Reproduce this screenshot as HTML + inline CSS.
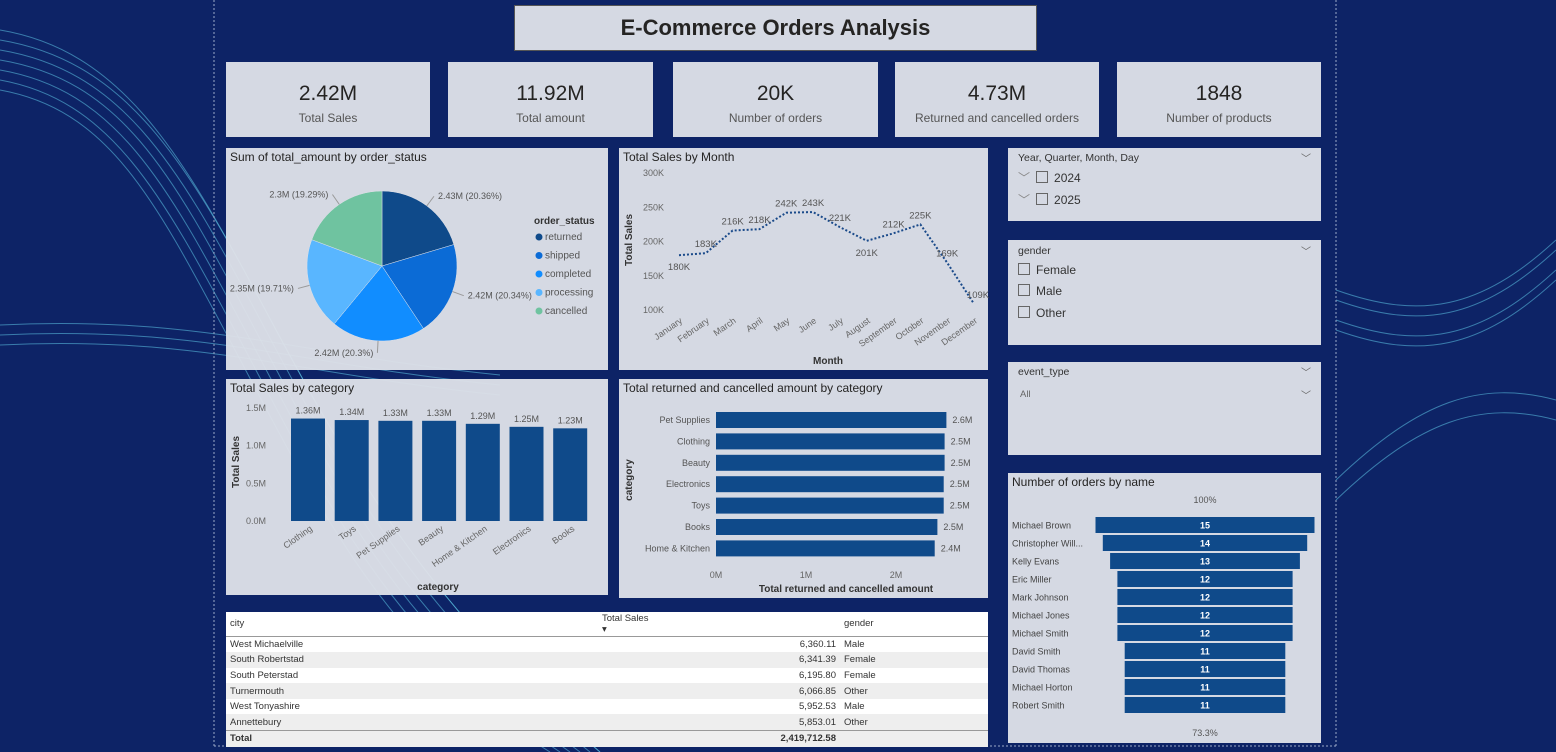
<!DOCTYPE html>
<html><head><meta charset="utf-8"><style>
body{margin:0;width:1556px;height:752px;overflow:hidden;background:#0d2366;font-family:"Liberation Sans",sans-serif;position:relative}
.p{position:absolute;background:rgba(222,225,232,0.96);box-sizing:border-box}
.t{position:absolute;left:4px;top:2px;font-size:12px;color:#252423}
.kv{position:absolute;width:100%;text-align:center;top:20px;font-size:21px;color:#252423}
.kl{position:absolute;width:100%;text-align:center;top:49px;font-size:12px;color:#555}
.cb{display:inline-block;width:10px;height:10px;border:1px solid #666;vertical-align:-1px;margin-right:6px}
.sl{position:absolute;font-size:12px;color:#333}
.chev{position:absolute;right:10px;font-size:10px;color:#666}
table{border-collapse:collapse;width:100%;font-size:9.5px;color:#333;table-layout:fixed}
td{padding:0 4px;height:15.6px;white-space:nowrap}
</style></head><body>
<svg style="position:absolute;left:0;top:0" width="1556" height="752">
<g fill="none" stroke="#5fc6e6" stroke-opacity="0.55" stroke-width="1">
<path d="M0 30 C120 50 180 150 260 300 S420 600 600 752"/>
<path d="M0 40 C120 60 180 150 260 300 S420 600 600 752"/>
<path d="M0 50 C120 70 175 160 255 310 S410 610 590 752"/>
<path d="M0 60 C120 80 170 170 250 320 S400 620 580 752"/>
<path d="M0 70 C115 90 165 180 245 330 S395 630 570 752"/>
<path d="M0 80 C110 100 160 190 240 340 S390 640 560 752"/>
<path d="M0 90 C110 110 155 200 235 350 S385 650 550 752"/>
<path d="M0 325 C200 315 300 355 500 375"/>
<path d="M0 335 C200 325 300 365 500 385"/>
<path d="M0 345 C200 335 300 375 500 395"/>
<path d="M1336 290 C1420 320 1480 310 1556 240"/>
<path d="M1336 300 C1420 330 1480 320 1556 250"/>
<path d="M1336 320 C1420 350 1480 340 1556 270"/>
<path d="M1336 330 C1420 360 1480 350 1556 280"/>
<path d="M1336 500 C1420 420 1480 400 1556 420"/>
<path d="M1336 480 C1420 400 1480 380 1556 400"/>
</g>
<g stroke="#9aa8c8" stroke-dasharray="2,2" fill="none"><line x1="214" y1="0" x2="214" y2="746"/><line x1="1336" y1="0" x2="1336" y2="746"/><line x1="214" y1="746" x2="1336" y2="746"/></g>
</svg>
<div class="p" style="left:514px;top:5px;width:523px;height:46px;border:1px solid #555;text-align:center;line-height:44px;font-size:22px;font-weight:bold;color:#252423">E-Commerce Orders Analysis</div>
<div class="p" style="left:226px;top:62px;width:204px;height:75px"><div class="kv">2.42M</div><div class="kl">Total Sales</div></div>
<div class="p" style="left:448px;top:62px;width:205px;height:75px"><div class="kv">11.92M</div><div class="kl">Total amount</div></div>
<div class="p" style="left:673px;top:62px;width:205px;height:75px"><div class="kv">20K</div><div class="kl">Number of orders</div></div>
<div class="p" style="left:895px;top:62px;width:204px;height:75px"><div class="kv">4.73M</div><div class="kl">Returned and cancelled orders</div></div>
<div class="p" style="left:1117px;top:62px;width:204px;height:75px"><div class="kv">1848</div><div class="kl">Number of products</div></div>
<div class="p" style="left:226px;top:148px;width:382px;height:222px"><div class="t">Sum of total_amount by order_status</div></div>
<div class="p" style="left:619px;top:148px;width:369px;height:222px"><div class="t">Total Sales by Month</div></div>
<div class="p" style="left:226px;top:379px;width:382px;height:216px"><div class="t">Total Sales by category</div></div>
<div class="p" style="left:619px;top:379px;width:369px;height:219px"><div class="t">Total returned and cancelled amount by category</div></div>
<div class="p" style="left:1008px;top:148px;width:313px;height:73px">
<div class="sl" style="left:10px;top:4px;font-size:10.5px">Year, Quarter, Month, Day</div><div class="chev" style="top:2px">﹀</div>
<div class="sl" style="left:10px;top:21px"><span style="color:#888;margin-right:6px">﹀</span><span class="cb"></span>2024</div>
<div class="sl" style="left:10px;top:43px"><span style="color:#888;margin-right:6px">﹀</span><span class="cb"></span>2025</div></div>
<div class="p" style="left:1008px;top:240px;width:313px;height:105px">
<div class="sl" style="left:10px;top:5px;font-size:10.5px">gender</div><div class="chev" style="top:3px">﹀</div>
<div class="sl" style="left:10px;top:23px"><span class="cb"></span>Female</div>
<div class="sl" style="left:10px;top:44px"><span class="cb"></span>Male</div>
<div class="sl" style="left:10px;top:66px"><span class="cb"></span>Other</div></div>
<div class="p" style="left:1008px;top:362px;width:313px;height:93px">
<div class="sl" style="left:10px;top:4px;font-size:10.5px">event_type</div><div class="chev" style="top:2px">﹀</div>
<div class="sl" style="left:12px;top:27px;font-size:9.5px;color:#666">All</div><div class="chev" style="top:25px">﹀</div></div>
<div class="p" style="left:1008px;top:473px;width:313px;height:270px"><div class="t">Number of orders by name</div></div>
<div class="p" style="left:226px;top:612px;width:762px;height:131px;background:#fff">
<table>
<colgroup><col style="width:372px"><col style="width:242px"><col></colgroup>
<tr style="height:24px;border-bottom:1px solid #999;background:#fff"><td>city</td><td style="text-align:left">Total Sales<br>▾</td><td>gender</td></tr>
<tr style="background:#fff"><td>West Michaelville</td><td style="text-align:right">6,360.11</td><td>Male</td></tr>
<tr style="background:#eee"><td>South Robertstad</td><td style="text-align:right">6,341.39</td><td>Female</td></tr>
<tr style="background:#fff"><td>South Peterstad</td><td style="text-align:right">6,195.80</td><td>Female</td></tr>
<tr style="background:#eee"><td>Turnermouth</td><td style="text-align:right">6,066.85</td><td>Other</td></tr>
<tr style="background:#fff"><td>West Tonyashire</td><td style="text-align:right">5,952.53</td><td>Male</td></tr>
<tr style="background:#eee;border-bottom:1px solid #999"><td>Annettebury</td><td style="text-align:right">5,853.01</td><td>Other</td></tr>
<tr style="font-weight:bold;background:#eee"><td>Total</td><td style="text-align:right">2,419,712.58</td><td></td></tr>
</table></div>
<svg id="ch" style="position:absolute;left:0;top:0" width="1556" height="752" font-family="Liberation Sans, sans-serif"></svg>
<script>
const pieLabels=["returned","shipped","completed","processing","cancelled"];
const pieValues=[2.43,2.42,2.42,2.35,2.3];
const piePct=[20.36,20.34,20.3,19.71,19.29];
const months=["January","February","March","April","May","June","July","August","September","October","November","December"];
const monthSales=[180,183,216,218,242,243,221,201,212,225,169,109];
const lineTicks=[100,150,200,250,300];
const cats=["Clothing","Toys","Pet Supplies","Beauty","Home & Kitchen","Electronics","Books"];
const catSales=[1.36,1.34,1.33,1.33,1.29,1.25,1.23];
const catTicks=[0,0.5,1.0,1.5];
const retCats=["Pet Supplies","Clothing","Beauty","Electronics","Toys","Books","Home & Kitchen"];
const retVals=[2.56,2.54,2.54,2.53,2.53,2.46,2.43];
const retTicks=[0,1,2];
const names=["Michael Brown","Christopher Will...","Kelly Evans","Eric Miller","Mark Johnson","Michael Jones","Michael Smith","David Smith","David Thomas","Michael Horton","Robert Smith"];
const orders=[15,14,13,12,12,12,12,11,11,11,11];

const S=document.getElementById('ch'),NS="http://www.w3.org/2000/svg";
function el(t,a,txt){const e=document.createElementNS(NS,t);for(const k in a)e.setAttribute(k,a[k]);if(txt!==undefined)e.textContent=txt;S.appendChild(e);return e;}
// pie
const cols=["#0f4a8a","#0b6bd6","#118dff","#59b6ff","#6fc3a0"];
const cx=382,cy=266,r=75;let tot=pieValues.reduce((a,b)=>a+b,0),ang=-Math.PI/2;
pieValues.forEach((v,i)=>{const a2=ang+v/tot*2*Math.PI;const x1=cx+r*Math.cos(ang),y1=cy+r*Math.sin(ang),x2=cx+r*Math.cos(a2),y2=cy+r*Math.sin(a2);
const p=el('path',{d:`M${cx} ${cy}L${x1} ${y1}A${r} ${r} 0 0 1 ${x2} ${y2}Z`,fill:cols[i],stroke:'#dfe1e8','stroke-width':0.5});

const m=(ang+a2)/2,lx=cx+(r+12)*Math.cos(m),ly=cy+(r+12)*Math.sin(m),right=Math.cos(m)>0;
el('line',{x1:cx+r*Math.cos(m),y1:cy+r*Math.sin(m),x2:lx,y2:ly,stroke:'#999'});
const t=el('text',{x:lx+(right?4:-4),y:ly+3,'font-size':9,fill:'#555','text-anchor':right?'start':'end'},pieValues[i]+'M ('+piePct[i]+'%)');

ang=a2;});
el('text',{x:534,y:224,'font-size':10,'font-weight':'bold',fill:'#333'},'order_status');
pieLabels.forEach((l,i)=>{el('circle',{cx:539,cy:237+i*18.5,r:3.5,fill:cols[i]});const t=el('text',{x:545,y:240+i*18.5,'font-size':10,fill:'#555'},l);});
// line
const ly0=310,ly1=173,lyS=v=>ly0-(v-100)/200*(ly0-ly1),lxS=i=>679+i*(974-679)/11;
lineTicks.forEach(v=>el('text',{x:664,y:lyS(v)+3,'font-size':9,fill:'#666','text-anchor':'end'},v+'K'));
months.forEach((m,i)=>el('text',{x:lxS(i)+4,y:322,'font-size':9,fill:'#666','text-anchor':'end',transform:`rotate(-35 ${lxS(i)+4} 322)`},m));
const lp=el('polyline',{points:monthSales.map((v,i)=>lxS(i)+','+lyS(v)).join(' '),fill:'none',stroke:'#1a4a8a','stroke-width':2,'stroke-dasharray':'2,2'});

monthSales.forEach((v,i)=>{const below=i>0&&i<11&&monthSales[i-1]>v&&monthSales[i+1]>v||i==0;el('text',{x:lxS(i)+(i==11?4:0),y:lyS(v)+(below?15:-6),'font-size':9.5,fill:'#555','text-anchor':'middle'},v+'K');});
el('text',{x:632,y:240,'font-size':10,'font-weight':'bold',fill:'#333','text-anchor':'middle',transform:'rotate(-90 632 240)'},'Total Sales');
el('text',{x:828,y:364,'font-size':10,'font-weight':'bold',fill:'#333','text-anchor':'middle'},'Month');
// category bars
const by0=521,bS=v=>by0-v/1.5*(521-408),bX=i=>291+i*43.7;
catTicks.forEach(v=>el('text',{x:266,y:bS(v)+3,'font-size':9,fill:'#666','text-anchor':'end'},v.toFixed(1)+'M'));
cats.forEach((c,i)=>{const r=el('rect',{x:bX(i),y:bS(catSales[i]),width:34,height:by0-bS(catSales[i]),fill:'#0f4a8a'});
el('text',{x:bX(i)+17,y:bS(catSales[i])-5,'font-size':9,fill:'#555','text-anchor':'middle'},catSales[i]+'M');
el('text',{x:bX(i)+22,y:530,'font-size':9,fill:'#666','text-anchor':'end',transform:`rotate(-35 ${bX(i)+22} 530)`},c);});
el('text',{x:239,y:462,'font-size':10,'font-weight':'bold',fill:'#333','text-anchor':'middle',transform:'rotate(-90 239 462)'},'Total Sales');
el('text',{x:438,y:590,'font-size':10,'font-weight':'bold',fill:'#333','text-anchor':'middle'},'category');
// returned bars
const rx0=716,rS=v=>rx0+v*90;
retTicks.forEach(v=>el('text',{x:rS(v),y:578,'font-size':9,fill:'#666','text-anchor':'middle'},v+'M'));
retCats.forEach((c,i)=>{const y=412+i*21.4;const r=el('rect',{x:rx0,y:y,width:rS(retVals[i])-rx0,height:16,fill:'#0f4a8a'});
el('text',{x:710,y:y+11,'font-size':9,fill:'#555','text-anchor':'end'},c);
el('text',{x:rS(retVals[i])+6,y:y+11,'font-size':9,fill:'#555'},retVals[i].toFixed(1)+'M');});
el('text',{x:632,y:480,'font-size':10,'font-weight':'bold',fill:'#333','text-anchor':'middle',transform:'rotate(-90 632 480)'},'category');
el('text',{x:846,y:592,'font-size':10,'font-weight':'bold',fill:'#333','text-anchor':'middle'},'Total returned and cancelled amount');
// funnel
const fc=1205,fW=219,mx=Math.max(...orders);
el('text',{x:fc,y:503,'font-size':9,fill:'#555','text-anchor':'middle'},'100%');
names.forEach((n,i)=>{const w=orders[i]/mx*fW,y=517+i*18;const r=el('rect',{x:fc-w/2,y:y,width:w,height:16,fill:'#0f4a8a'});
el('text',{x:fc,y:y+11.5,'font-size':9,'font-weight':'bold',fill:'#fff','text-anchor':'middle'},orders[i]);
el('text',{x:1012,y:y+11.5,'font-size':9,fill:'#444'},n);});
el('text',{x:fc,y:736,'font-size':9,fill:'#555','text-anchor':'middle'},(orders[orders.length-1]/mx*100).toFixed(1)+'%');
</script>
</body></html>
